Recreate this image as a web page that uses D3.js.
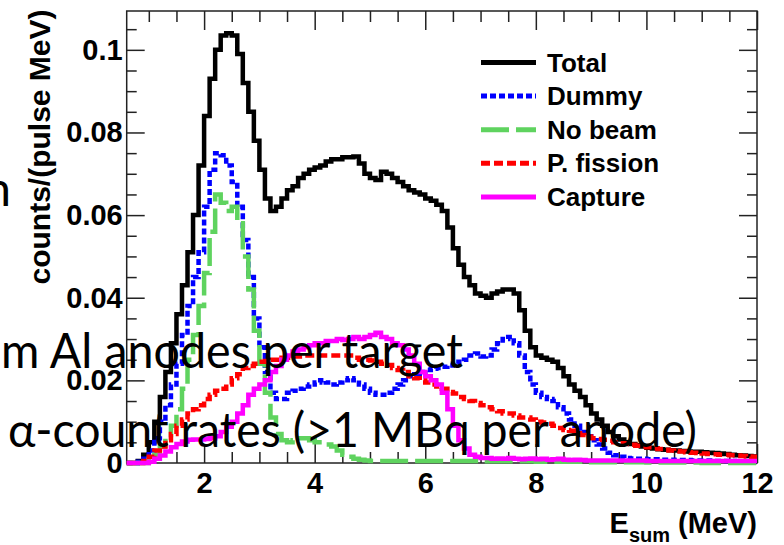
<!DOCTYPE html>
<html>
<head>
<meta charset="utf-8">
<script src="https://cdn.jsdelivr.net/npm/d3@7"></script>
<style>
body { margin: 0; background: #fff; }
svg { display: block; }
</style>
</head>
<body>
<script>
const w = 784;
const h = 545;

// histogram bins: 0.1 MeV wide, first bin starts at 0.6 MeV
const binStart = 0.6;
const binWidth = 0.1;

const total = [
    0, 0, 0.0005, 0.002,
    0.005, 0.010, 0.016, 0.022, 0.029, 0.036, 0.043, 0.051, 0.060, 0.072,
    0.084, 0.093, 0.100, 0.1035, 0.104, 0.1035, 0.099, 0.092, 0.085, 0.078,
    0.071, 0.064, 0.061, 0.062, 0.064, 0.066, 0.067, 0.069, 0.070, 0.071,
    0.0715, 0.072, 0.073, 0.0735, 0.0735, 0.074, 0.074, 0.0742, 0.0725, 0.070,
    0.069, 0.0685, 0.0705, 0.070, 0.069, 0.068, 0.067, 0.066, 0.0655, 0.065,
    0.064, 0.0635, 0.0625, 0.061, 0.057, 0.052, 0.048, 0.045, 0.043, 0.041,
    0.0405, 0.040, 0.041, 0.0415, 0.042, 0.042, 0.041, 0.037, 0.032, 0.028,
    0.026, 0.0255, 0.025, 0.0245, 0.023, 0.021, 0.019, 0.0175, 0.016, 0.014,
    0.012, 0.0105, 0.009, 0.0075, 0.0065, 0.0057, 0.005, 0.0046, 0.0043, 0.004,
    0.0037, 0.0035, 0.0033, 0.0032, 0.0031, 0.003, 0.0029, 0.0028, 0.0027, 0.0027,
    0.0026, 0.0025, 0.0024, 0.0023, 0.0022, 0.002, 0.0019, 0.0018, 0.0017, 0.0016
];

const dummy = [
    0, 0, 0.0003, 0.001,
    0.003, 0.006, 0.010, 0.014, 0.019, 0.024, 0.031, 0.038, 0.045, 0.051,
    0.062, 0.071, 0.075, 0.0745, 0.072, 0.068, 0.062, 0.054, 0.045, 0.035,
    0.028, 0.022, 0.017, 0.0155, 0.0155, 0.017, 0.0175, 0.018, 0.0185, 0.019,
    0.0195, 0.020, 0.0195, 0.019, 0.0195, 0.020, 0.0205, 0.020, 0.019, 0.018,
    0.017, 0.0165, 0.0165, 0.017, 0.018, 0.019, 0.020, 0.021, 0.0215, 0.022,
    0.0225, 0.0228, 0.023, 0.0233, 0.0236, 0.024, 0.0245, 0.025, 0.026, 0.0265,
    0.0258, 0.026, 0.0275, 0.029, 0.030, 0.0305, 0.029, 0.026, 0.022, 0.019,
    0.017, 0.016, 0.0155, 0.015, 0.0135, 0.012, 0.0105, 0.009, 0.0075, 0.0065,
    0.0055, 0.0045, 0.0035, 0.0025, 0.0019, 0.0015, 0.0012, 0.0011, 0.001, 0.001,
    0.0009, 0.0009, 0.0008, 0.0008, 0.0008, 0.0007, 0.0007, 0.0007, 0.0006, 0.0006,
    0.0006, 0.0006, 0.0005, 0.0005, 0.0005, 0.0005, 0.0004, 0.0004, 0.0004, 0.0004
];

const noBeam = [
    0, 0, 0, 0,
    0.001, 0.002, 0.004, 0.006, 0.009, 0.013, 0.018, 0.025, 0.031, 0.038,
    0.046, 0.056, 0.065, 0.063, 0.061, 0.062, 0.058, 0.050, 0.042, 0.032,
    0.024, 0.017, 0.011, 0.007, 0.0055, 0.005, 0.0055, 0.006, 0.006, 0.0055,
    0.005, 0.005, 0.0045, 0.004, 0.003, 0.002, 0.0015, 0.001, 0.0008, 0.0006,
    0.0005, 0.0005, 0.0005, 0.0005, 0.0005, 0.0005, 0.0005, 0.0005, 0.0005, 0.0005,
    0.0005, 0.0005, 0.0005, 0.0005, 0.0005, 0.0005, 0.0005, 0.0005, 0.0005, 0.0005,
    0.0004, 0.0004, 0.0004, 0.0004, 0.0004, 0.0004, 0.0004, 0.0004, 0.0004, 0.0004,
    0.0003, 0.0003, 0.0003, 0.0003, 0.0003, 0.0003, 0.0003, 0.0003, 0.0003, 0.0003,
    0.0002, 0.0002, 0.0002, 0.0002, 0.0002, 0.0002, 0.0002, 0.0002, 0.0002, 0.0002,
    0.0001, 0.0001, 0.0001, 0.0001, 0.0001, 0.0001, 0.0001, 0.0001, 0.0001, 0.0001,
    0, 0, 0, 0, 0, 0, 0, 0, 0, 0
];

const fission = [
    0, 0, 0, 0.0005,
    0.0015, 0.003, 0.004, 0.0055, 0.007, 0.009, 0.0105, 0.012, 0.013, 0.014,
    0.0155, 0.0165, 0.0175, 0.018, 0.019, 0.0205, 0.0215, 0.023, 0.0235, 0.024,
    0.0245, 0.0247, 0.025, 0.025, 0.0255, 0.0255, 0.0258, 0.0258, 0.026, 0.026,
    0.026, 0.026, 0.026, 0.026, 0.026, 0.026, 0.026, 0.0255, 0.025, 0.025,
    0.0248, 0.0245, 0.024, 0.0237, 0.023, 0.0225, 0.022, 0.021, 0.0205, 0.020,
    0.0195, 0.019, 0.0185, 0.018, 0.0172, 0.0168, 0.016, 0.0155, 0.015, 0.0145,
    0.014, 0.0135, 0.013, 0.0125, 0.012, 0.012, 0.0115, 0.011, 0.011, 0.0105,
    0.010, 0.0098, 0.0095, 0.009, 0.0085, 0.008, 0.0078, 0.0072, 0.0068, 0.0064,
    0.006, 0.0058, 0.0056, 0.0054, 0.005, 0.0048, 0.0046, 0.0044, 0.0042, 0.004,
    0.0038, 0.0036, 0.0034, 0.0032, 0.003, 0.0029, 0.0028, 0.0026, 0.0025, 0.0024,
    0.0023, 0.0022, 0.0021, 0.002, 0.002, 0.0019, 0.0018, 0.0017, 0.0016, 0.0015
];

const capture = [
    0, 0, 0, 0,
    0.0003, 0.001, 0.0018, 0.0028, 0.0038, 0.0046, 0.0052, 0.0056, 0.0057, 0.0057,
    0.0058, 0.006, 0.0065, 0.0075, 0.0088, 0.010, 0.012, 0.014, 0.0165, 0.018,
    0.019, 0.020, 0.022, 0.0235, 0.025, 0.026, 0.027, 0.0275, 0.028, 0.0285,
    0.029, 0.029, 0.0295, 0.0295, 0.030, 0.0298, 0.030, 0.0305, 0.030, 0.0305,
    0.031, 0.0315, 0.0305, 0.030, 0.029, 0.0285, 0.0275, 0.026, 0.024, 0.022,
    0.021, 0.020, 0.019, 0.017, 0.013, 0.009, 0.0055, 0.0035, 0.002, 0.0015,
    0.0012, 0.0012, 0.001, 0.0011, 0.001, 0.0012, 0.001, 0.0009, 0.001, 0.0011,
    0.0009, 0.001, 0.0008, 0.0009, 0.001, 0.0008, 0.0007, 0.0008, 0.0007, 0.0006,
    0.0006, 0.0006, 0.0006, 0.0006, 0.0006, 0.0006, 0.0006, 0.0006, 0.0006, 0.0006,
    0.0005, 0.0005, 0.0005, 0.0005, 0.0005, 0.0005, 0.0005, 0.0005, 0.0005, 0.0005,
    0.0005, 0.0005, 0.0005, 0.0005, 0.0005, 0.0005, 0.0005, 0.0005, 0.0005, 0.0005
];

const seriesNames = ["Total", "Dummy", "No beam", "P. fission", "Capture"];
const seriesValues = [total, dummy, noBeam, fission, capture];

const xTickValues = [2, 4, 6, 8, 10, 12];
const xMinorValues = [1, 1.5, 2.5, 3, 3.5, 4.5, 5, 5.5, 6.5, 7, 7.5, 8.5, 9, 9.5, 10.5, 11, 11.5];
const yTickValues = [0, 0.02, 0.04, 0.06, 0.08, 0.1];
const yTickLabels = ["0", "0.02", "0.04", "0.06", "0.08", "0.1"];
const yMinorValues = [0.005, 0.01, 0.015, 0.025, 0.03, 0.035, 0.045, 0.05, 0.055,
    0.065, 0.07, 0.075, 0.085, 0.09, 0.095, 0.105];

// slide text lying over the picture
const slideLines = ["n", "m Al anodes per target", "\u03b1-count rates (>1 MBq per anode)"];

// styles per series
const styles = [
    { color: "#000000", dash: null },
    { color: "#0000ff", dash: "6,3" },
    { color: "#5fd35f", dash: "28,7" },
    { color: "#ff0000", dash: "9,4" },
    { color: "#ff00ff", dash: null },
];

const frame = { left: 126.7, right: 757, top: 11, bottom: 463 };

const svg = d3.select("body")
    .append("svg")
    .attr("width", w)
    .attr("height", h)
    ;

const xScale = d3.scaleLinear()
    .domain([0.6, 12])
    .range([frame.left, frame.right])
    ;
const yScale = d3.scaleLinear()
    .domain([0, 0.1094])
    .range([frame.bottom, frame.top])
    ;

const tickFont = "'Liberation Sans', Arial, sans-serif";

function styleAxis(g) {
    g.select(".domain").remove();
    g.selectAll("line").attr("stroke", "#222").attr("stroke-width", 1.5);
    g.selectAll("text")
        .attr("fill", "#000")
        .attr("font-family", tickFont)
        .attr("font-weight", "bold")
        .attr("font-size", 29);
}

// x axes (bottom with labels, top without)
svg.append("g")
    .attr("transform", `translate(0,${frame.bottom})`)
    .call(d3.axisBottom(xScale).tickValues(xTickValues).tickSize(-19).tickPadding(9).tickFormat(d3.format("d")))
    .call(styleAxis)
    ;
svg.append("g")
    .attr("transform", `translate(0,${frame.bottom})`)
    .call(d3.axisBottom(xScale).tickValues(xMinorValues).tickSize(-11).tickFormat(""))
    .call(styleAxis)
    ;
svg.append("g")
    .attr("transform", `translate(0,${frame.top})`)
    .call(d3.axisTop(xScale).tickValues(xTickValues).tickSize(-19).tickFormat(""))
    .call(styleAxis)
    ;
svg.append("g")
    .attr("transform", `translate(0,${frame.top})`)
    .call(d3.axisTop(xScale).tickValues(xMinorValues).tickSize(-11).tickFormat(""))
    .call(styleAxis)
    ;

// y axes (left with labels, right without)
svg.append("g")
    .attr("transform", `translate(${frame.left},0)`)
    .call(d3.axisLeft(yScale).tickValues(yTickValues).tickSize(-18).tickPadding(4)
        .tickFormat((d, i) => yTickLabels[i]))
    .call(styleAxis)
    ;
svg.append("g")
    .attr("transform", `translate(${frame.left},0)`)
    .call(d3.axisLeft(yScale).tickValues(yMinorValues).tickSize(-10).tickFormat(""))
    .call(styleAxis)
    ;
svg.append("g")
    .attr("transform", `translate(${frame.right},0)`)
    .call(d3.axisRight(yScale).tickValues(yTickValues).tickSize(-18).tickFormat(""))
    .call(styleAxis)
    ;
svg.append("g")
    .attr("transform", `translate(${frame.right},0)`)
    .call(d3.axisRight(yScale).tickValues(yMinorValues).tickSize(-10).tickFormat(""))
    .call(styleAxis)
    ;

svg.append("rect")
    .attr("x", frame.left)
    .attr("y", frame.top)
    .attr("width", frame.right - frame.left)
    .attr("height", frame.bottom - frame.top)
    .attr("fill", "none")
    .attr("stroke", "#222")
    .attr("stroke-width", 1.5)
    ;

// histograms as step lines
const stepLine = d3.line()
    .x(d => xScale(d[0]))
    .y(d => yScale(d[1]))
    .curve(d3.curveStepAfter)
    ;

function histPoints(vals) {
    let pts = vals.map((v, i) => [binStart + i * binWidth, v]);
    pts.push([binStart + vals.length * binWidth, vals[vals.length - 1]]);
    return pts;
}

svg.append("g")
    .selectAll("path")
    .data(seriesValues)
    .enter()
    .append("path")
    .attr("d", d => stepLine(histPoints(d)))
    .attr("fill", "none")
    .attr("stroke", (d, i) => styles[i].color)
    .attr("stroke-width", 4.5)
    .attr("stroke-dasharray", (d, i) => styles[i].dash)
    .attr("stroke-linejoin", "miter")
    ;

// legend
const legend = svg.append("g")
    .selectAll("g")
    .data(seriesNames)
    .enter()
    .append("g")
    .attr("transform", (d, i) => `translate(0,${62.5 + i * 33.6})`)
    ;
legend.append("line")
    .attr("x1", 481)
    .attr("x2", 536)
    .attr("stroke", (d, i) => styles[i].color)
    .attr("stroke-width", 5)
    .attr("stroke-dasharray", (d, i) => styles[i].dash)
    ;
legend.append("text")
    .attr("x", 547)
    .attr("y", 9)
    .attr("font-family", tickFont)
    .attr("font-weight", "bold")
    .attr("font-size", 26)
    .text(d => d)
    ;

// axis titles
svg.append("text")
    .attr("transform", "translate(50,147) rotate(-90)")
    .attr("text-anchor", "middle")
    .attr("font-family", tickFont)
    .attr("font-weight", "bold")
    .attr("font-size", 30)
    .text("counts/(pulse MeV)")
    ;

const xTitle = svg.append("text")
    .attr("x", frame.right)
    .attr("y", 533)
    .attr("text-anchor", "end")
    .attr("font-family", tickFont)
    .attr("font-weight", "bold")
    .attr("font-size", 29)
    ;
xTitle.append("tspan").text("E");
xTitle.append("tspan").attr("font-size", 20).attr("dy", 9).text("sum");
xTitle.append("tspan").attr("dy", -9).text(" (MeV)");

// slide text on top
const slideFont = "Lato, 'Open Sans', sans-serif";
svg.append("text")
    .attr("x", 11)
    .attr("y", 206)
    .attr("text-anchor", "end")
    .attr("font-family", slideFont)
    .attr("font-size", 48)
    .text(slideLines[0])
    ;
svg.append("text")
    .attr("x", 1)
    .attr("y", 368)
    .attr("font-family", slideFont)
    .attr("font-size", 48)
    .attr("textLength", 462)
    .attr("lengthAdjust", "spacingAndGlyphs")
    .text(slideLines[1])
    ;
svg.append("text")
    .attr("x", 8)
    .attr("y", 447)
    .attr("font-family", slideFont)
    .attr("font-size", 48)
    .attr("textLength", 689)
    .attr("lengthAdjust", "spacingAndGlyphs")
    .text(slideLines[2])
    ;
</script>
</body>
</html>
